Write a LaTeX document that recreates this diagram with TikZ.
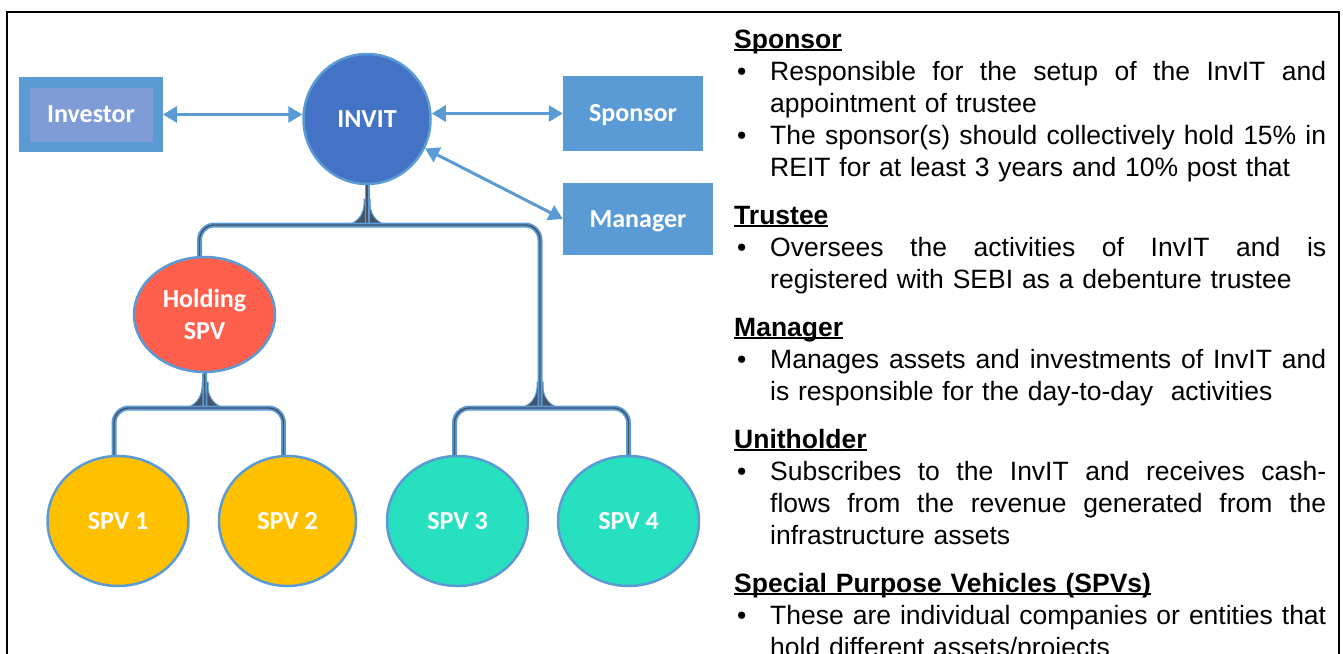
\documentclass[tikz,border=0pt]{standalone}
\usepackage{fontspec}
\setmainfont{Liberation Sans}
\newfontfamily\labelfont{Carlito}
\usetikzlibrary{shapes.geometric,arrows.meta}
\definecolor{boxblue}{RGB}{91,155,213}
\definecolor{invitblue}{RGB}{68,114,196}
\definecolor{innerblue}{RGB}{127,156,214}
\definecolor{holdred}{RGB}{255,95,77}
\definecolor{spvyellow}{RGB}{255,192,0}
\definecolor{spvteal}{RGB}{38,224,192}
\definecolor{coredark}{RGB}{68,84,106}

\newsavebox\headbox
\newcommand\headul[1]{\leavevmode\sbox\headbox{\bfseries #1}\rlap{\rule[-3pt]{\wd\headbox}{2pt}}\usebox\headbox}
\newcommand\bul{\makebox[36pt][l]{\hspace{3pt}\textbullet}}
\newcommand\ind{\makebox[36pt]{}}
\newcommand\jline[1]{\hbox to 556pt{\spaceskip=0.278em plus 1fil\relax #1}}

\begin{document}
\begin{tikzpicture}[x=1pt, y=-1pt,
    label/.style={text=white, font=\labelfont\bfseries\fontsize{26}{32}\selectfont},
    box/.style={label, fill=boxblue, inner sep=0pt, text height=16.5pt, text depth=0pt},
    entity/.style={label, ellipse, draw=boxblue, line width=2.5pt, inner sep=0pt,
        minimum width=141pt, minimum height=130pt, align=center},
    link/.style={draw=boxblue, line width=3pt,
        {Triangle[length=14pt,width=16pt]}-{Triangle[length=14pt,width=16pt]}},
    tree/.style={draw=boxblue, line width=1.8pt, double=coredark,
        double distance=1.4pt, rounded corners=15pt},
    fork/.pic={
        \filldraw[fill=coredark, draw=boxblue, line width=1pt]
            (-19,0) .. controls (-10,-3) and (-4,-9) .. (-3,-20)
            -- (-3,-26) -- (3,-26) -- (3,-20)
            .. controls (4,-9) and (10,-3) .. (19,0) -- cycle;
    }]
    \useasboundingbox (0,0) rectangle (1343,653);
    \clip (0,0) rectangle (1343,653);

    % outer frame
    \draw[line width=2.5pt] (7,12) rectangle (1339,700);

    % parties
    \node[box, fill=innerblue, draw=boxblue, line width=10.5pt,
        minimum width=133.5pt, minimum height=64.5pt] (investor) at (91,114.5) {Investor};
    \node[entity, fill=invitblue, minimum width=127pt, minimum height=130pt] (invit) at (367,119) {INVIT};
    \node[box, minimum width=140pt, minimum height=75pt] (sponsor) at (633,113.5) {Sponsor};
    \node[box, minimum width=150pt, minimum height=72pt] (manager) at (638,219) {Manager};

    \draw[link] (investor.east) -- (invit.west |- investor.east);
    \draw[link] (invit.east |- sponsor.west) -- (sponsor.west);
    \draw[link] (invit.-27) -- (manager.west);

    % holding structure
    \node[entity, fill=holdred, minimum width=141pt, minimum height=115pt] (hold) at (204.5,314.5) {Holding\\SPV};
    \node[entity, fill=spvyellow] (spv1) at (118,521) {SPV 1};
    \node[entity, fill=spvyellow, minimum width=137pt] (spv2) at (287.5,521) {SPV 2};
    \node[entity, fill=spvteal] (spv3) at (457.5,521) {SPV 3};
    \node[entity, fill=spvteal] (spv4) at (628.5,521) {SPV 4};

    \coordinate (topj) at (367,225);
    \coordinate (holdj) at (205,408);
    \coordinate (rightj) at (540,408);

    \pic at (topj) {fork};
    \pic at (holdj) {fork};
    \pic at (rightj) {fork};

    \draw[tree] (invit.south) -- (topj);
    \draw[tree] (hold.south) -- (holdj);
    \draw[tree] ([xshift=-5pt]hold.north) |- (topj) -| (rightj);
    \draw[tree] ([xshift=-4pt]spv1.north) |- (holdj) -| ([xshift=-4pt]spv2.north);
    \draw[tree] ([xshift=-3pt]spv3.north) |- (rightj) -| (spv4.north);

    % notes
    \node[anchor=north west, inner sep=0pt, text width=600pt, align=left,
        font=\fontsize{26.5}{32}\selectfont] (notes) at (734,26) {%
        \rule{0pt}{22pt}\headul{Sponsor}\\
        \bul\jline{Responsible for the setup of the InvIT and}\\
        \ind appointment of trustee\\
        \bul\jline{The sponsor(s) should collectively hold 15\% in}\\
        \ind REIT for at least 3 years and 10\% post that\\[16pt]
        \headul{Trustee}\\
        \bul\jline{Oversees the activities of InvIT and is}\\
        \ind registered with SEBI as a debenture trustee\\[16pt]
        \headul{Manager}\\
        \bul\jline{Manages assets and investments of InvIT and}\\
        \ind is responsible for the day-to-day~ activities\\[16pt]
        \headul{Unitholder}\\
        \bul\jline{Subscribes to the InvIT and receives cash-}\\
        \ind\jline{flows from the revenue generated from the}\\
        \ind infrastructure assets\\[16pt]
        \headul{Special Purpose Vehicles (SPVs)}\\
        \bul\jline{These are individual companies or entities that}\\
        \ind hold different assets/projects};
\end{tikzpicture}
\end{document}
